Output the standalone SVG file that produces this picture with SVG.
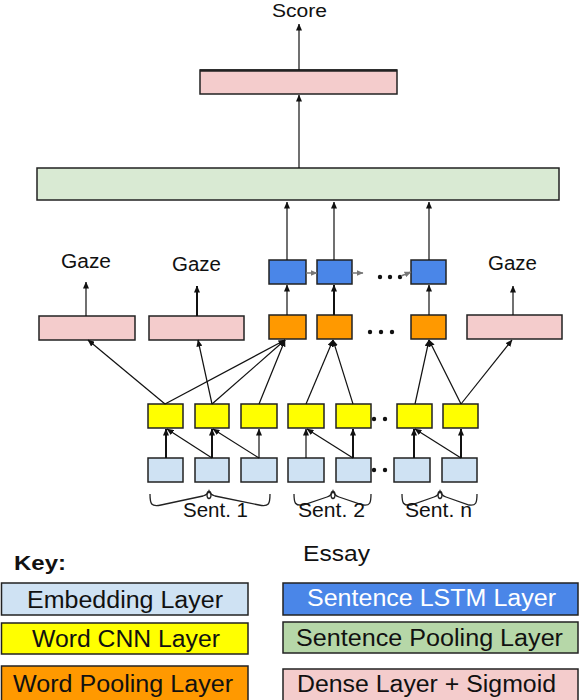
<svg xmlns="http://www.w3.org/2000/svg" width="580" height="700" viewBox="0 0 580 700">
<style>
.box{stroke:#222;stroke-width:1.5}
.emb{fill:#cfe2f3}
.cnn{fill:#ffff00}
.wpool{fill:#ff9900}
.lstm{fill:#4a86e8}
.spool{fill:#d9ead3}
.spoolk{fill:#b6d7a8}
.dense{fill:#f4cccc}
.t{font-family:"Liberation Sans",Arial,sans-serif;fill:#111}
.lab{font-size:20px}
.key{font-size:23px}
.c{fill:none;stroke:#111;stroke-width:1.2;marker-end:url(#ah)}
.k{stroke-width:2}
.g{fill:none;stroke:#777;stroke-width:1.5;marker-end:url(#ahg)}
.brace{fill:none;stroke:#222;stroke-width:1.3}
</style>
<defs>
<marker id="ah" markerUnits="userSpaceOnUse" markerWidth="7" markerHeight="6" refX="6.5" refY="3" orient="auto"><path d="M0,0 L7,3 L0,6 z" fill="#111"/></marker>
<marker id="ahg" markerUnits="userSpaceOnUse" markerWidth="7" markerHeight="6" refX="6.5" refY="3" orient="auto"><path d="M0,0 L7,3 L0,6 z" fill="#777"/></marker>
</defs>
<rect width="580" height="700" fill="#fff"/>

<g id="score"><text class="t" x="272" y="17" font-size="18" textLength="55" lengthAdjust="spacingAndGlyphs">Score</text></g>
<g id="dense_top"><rect class="box dense" x="200" y="70" width="197" height="24"/><line x1="200" y1="70.5" x2="397" y2="70.5" stroke="#222" stroke-width="2.5"/></g>
<g id="sent_pool"><rect class="box spool" x="37" y="168" width="522" height="32"/></g>

<g id="lstm1"><rect class="box lstm" x="269" y="260" width="37" height="24"/></g>
<g id="lstm2"><rect class="box lstm" x="317" y="260" width="35" height="24"/></g>
<g id="lstm3"><rect class="box lstm" x="411" y="260" width="35" height="24"/></g>
<g id="lstm_dots" fill="#111"><circle cx="380" cy="277" r="2.2"/><circle cx="390" cy="277" r="2.2"/><circle cx="400" cy="277" r="2.2"/></g>

<g id="gaze1"><text class="t lab" x="61" y="268" textLength="50" lengthAdjust="spacingAndGlyphs">Gaze</text></g>
<g id="gaze2"><text class="t lab" x="172" y="271" textLength="49" lengthAdjust="spacingAndGlyphs">Gaze</text></g>
<g id="gaze3"><text class="t lab" x="488" y="270" textLength="49" lengthAdjust="spacingAndGlyphs">Gaze</text></g>

<g id="dense1"><rect class="box dense" x="39" y="316" width="96" height="24"/></g>
<g id="dense2"><rect class="box dense" x="149" y="316" width="95" height="24"/></g>
<g id="wpool1"><rect class="box wpool" x="269" y="315" width="37" height="24"/></g>
<g id="wpool2"><rect class="box wpool" x="317" y="315" width="35" height="24"/></g>
<g id="wpool3"><rect class="box wpool" x="411" y="315" width="35" height="24"/></g>
<g id="wpool_dots" fill="#111"><circle cx="370" cy="332" r="2.2"/><circle cx="381" cy="332" r="2.2"/><circle cx="392" cy="332" r="2.2"/></g>
<g id="dense3"><rect class="box dense" x="467" y="315" width="95" height="24"/></g>

<g id="cnn1"><rect class="box cnn" x="148" y="404" width="35" height="24"/></g>
<g id="cnn2"><rect class="box cnn" x="195" y="404" width="34" height="24"/></g>
<g id="cnn3"><rect class="box cnn" x="241" y="404" width="36" height="24"/></g>
<g id="cnn4"><rect class="box cnn" x="288" y="404" width="36" height="24"/></g>
<g id="cnn5"><rect class="box cnn" x="336" y="404" width="35" height="24"/></g>
<g id="cnn6"><rect class="box cnn" x="397" y="404" width="35" height="24"/></g>
<g id="cnn7"><rect class="box cnn" x="443" y="404" width="35" height="24"/></g>
<g id="cnn_dots" fill="#111"><circle cx="374" cy="419" r="2.2"/><circle cx="385" cy="419" r="2.2"/></g>

<g id="emb1"><rect class="box emb" x="148" y="458" width="35" height="24"/></g>
<g id="emb2"><rect class="box emb" x="195" y="458" width="34" height="24"/></g>
<g id="emb3"><rect class="box emb" x="241" y="458" width="36" height="24"/></g>
<g id="emb4"><rect class="box emb" x="288" y="458" width="36" height="24"/></g>
<g id="emb5"><rect class="box emb" x="336" y="458" width="35" height="24"/></g>
<g id="emb6"><rect class="box emb" x="394" y="458" width="36" height="24"/></g>
<g id="emb7"><rect class="box emb" x="442" y="458" width="35" height="24"/></g>
<g id="emb_dots" fill="#111"><circle cx="374" cy="470" r="2.2"/><circle cx="385" cy="470" r="2.2"/></g>

<g id="sent1">
<path class="brace" d="M150,494 C150,504 151,507 161,505 L203,496 C206,495 208,494 209,491 C210,494 212,495 215,496 L259,505 C269,507 270,504 270,494"/>
<ellipse class="brace" cx="209" cy="495" rx="2" ry="3.5"/>
<text class="t lab" x="183" y="517" textLength="65" lengthAdjust="spacingAndGlyphs">Sent. 1</text>
</g>
<g id="sent2">
<path class="brace" d="M294,494 C294,503 295,506 303,505 L327,497 C330,496 332,494 333,491 C334,494 336,496 339,497 L363,505 C370,506 371,503 371,494"/>
<ellipse class="brace" cx="333" cy="495" rx="2" ry="3.5"/>
<text class="t lab" x="298" y="517" textLength="67" lengthAdjust="spacingAndGlyphs">Sent. 2</text>
</g>
<g id="sentn">
<path class="brace" d="M402,494 C402,503 403,506 411,505 L434,497 C437,496 439,494 440,491 C441,494 443,496 446,497 L469,505 C476,506 477,503 477,494"/>
<ellipse class="brace" cx="440" cy="495" rx="2" ry="3.5"/>
<text class="t lab" x="405" y="517" textLength="67" lengthAdjust="spacingAndGlyphs">Sent. n</text>
</g>

<g id="connectors">
<line class="c" x1="299" y1="70" x2="299" y2="24"/>
<line class="c" x1="299" y1="168" x2="299" y2="95"/>
<line class="c" x1="287" y1="260" x2="287" y2="202"/>
<line class="c" x1="334" y1="260" x2="334" y2="202"/>
<line class="c" x1="429" y1="260" x2="429" y2="202"/>
<line class="c" x1="287" y1="315" x2="287" y2="285"/>
<line class="c k" x1="334" y1="315" x2="334" y2="285"/>
<line class="c" x1="429" y1="315" x2="429" y2="285"/>
<line class="g" x1="306" y1="273" x2="317" y2="273"/>
<line class="g" x1="352" y1="273" x2="363" y2="273"/>
<line class="g" x1="401" y1="276" x2="411" y2="272"/>
<line class="c" x1="86" y1="316" x2="86" y2="282"/>
<line class="c k" x1="197" y1="316" x2="197" y2="286"/>
<line class="c" x1="513" y1="315" x2="513" y2="286"/>
<line class="c" x1="165" y1="404" x2="88" y2="340"/>
<line class="c" x1="165" y1="404" x2="285" y2="340"/>
<line class="c" x1="212" y1="404" x2="198" y2="340"/>
<line class="c" x1="212" y1="404" x2="285" y2="340"/>
<line class="c" x1="259" y1="404" x2="285" y2="340"/>
<line class="c" x1="306" y1="404" x2="333" y2="340"/>
<line class="c" x1="353" y1="404" x2="333" y2="340"/>
<line class="c" x1="415" y1="404" x2="429" y2="340"/>
<line class="c" x1="461" y1="404" x2="429" y2="340"/>
<line class="c" x1="461" y1="404" x2="512" y2="340"/>
<line class="c k" x1="166" y1="458" x2="166" y2="429"/>
<line class="c k" x1="212" y1="458" x2="212" y2="429"/>
<line class="c" x1="259" y1="458" x2="259" y2="429"/>
<line class="c" x1="212" y1="458" x2="167" y2="429"/>
<line class="c" x1="259" y1="458" x2="213" y2="429"/>
<line class="c" x1="306" y1="458" x2="306" y2="429"/>
<line class="c k" x1="353" y1="458" x2="353" y2="429"/>
<line class="c" x1="353" y1="458" x2="307" y2="429"/>
<line class="c k" x1="414" y1="458" x2="414" y2="429"/>
<line class="c k" x1="461" y1="458" x2="461" y2="429"/>
<line class="c" x1="461" y1="458" x2="415" y2="429"/>
</g>

<g id="essay"><text class="t" x="303" y="561" font-size="22" textLength="67" lengthAdjust="spacingAndGlyphs">Essay</text></g>
<g id="key_title"><text class="t" x="14" y="570" font-size="20" font-weight="bold" textLength="52" lengthAdjust="spacingAndGlyphs">Key:</text></g>
<g id="key_emb"><rect class="box emb" x="1.5" y="583" width="246.5" height="32"/><text class="t key" x="27" y="608" textLength="196" lengthAdjust="spacingAndGlyphs">Embedding Layer</text></g>
<g id="key_cnn"><rect class="box cnn" x="1.5" y="623" width="246.5" height="31"/><text class="t key" x="32" y="647" textLength="188" lengthAdjust="spacingAndGlyphs">Word CNN Layer</text></g>
<g id="key_wpool"><rect class="box wpool" x="1.5" y="666" width="246.5" height="36"/><text class="t key" x="13" y="692" textLength="220" lengthAdjust="spacingAndGlyphs">Word Pooling Layer</text></g>
<g id="key_lstm"><rect class="box lstm" x="283" y="583" width="295" height="32"/><text class="t key" x="307" y="606" textLength="249" lengthAdjust="spacingAndGlyphs" style="fill:#fff">Sentence LSTM Layer</text></g>
<g id="key_spool"><rect class="box spoolk" x="283" y="622" width="295" height="31"/><text class="t key" x="296" y="646" textLength="267" lengthAdjust="spacingAndGlyphs">Sentence Pooling Layer</text></g>
<g id="key_dense"><rect class="box dense" x="283" y="669" width="295" height="33"/><text class="t key" x="297" y="692" textLength="259" lengthAdjust="spacingAndGlyphs">Dense Layer + Sigmoid</text></g>
</svg>
